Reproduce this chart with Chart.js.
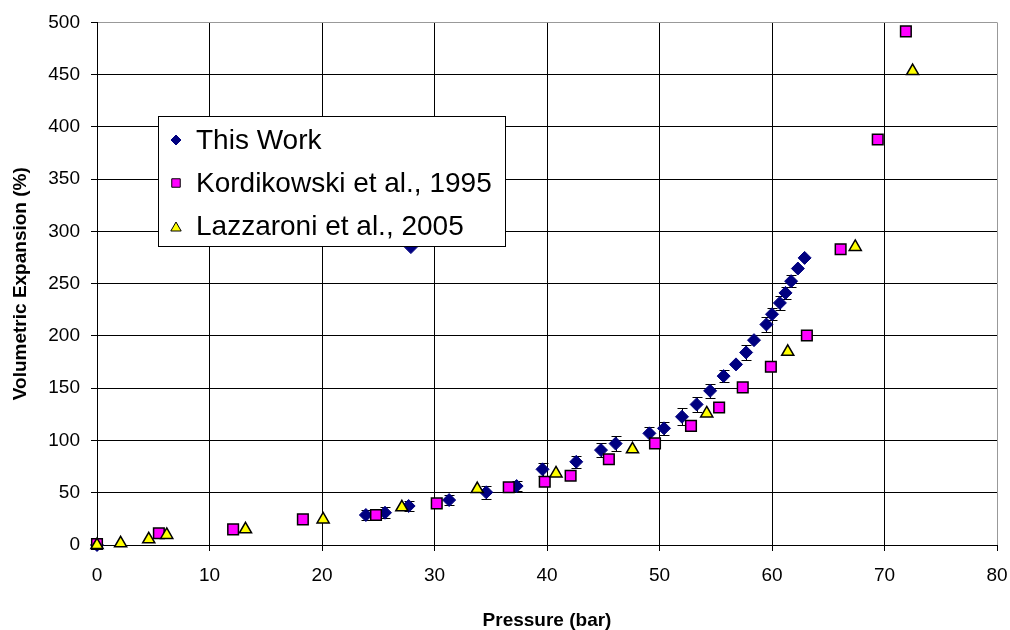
<!DOCTYPE html>
<html>
<head>
<meta charset="utf-8">
<script src="https://cdn.jsdelivr.net/npm/chart.js@4/dist/chart.umd.min.js"></script>
<style>
  html, body { margin: 0; padding: 0; background: #fff; }
  #grafico { display: block; }
</style>
</head>
<body>
<canvas id="grafico" width="1010" height="630"></canvas>
<script>
// pressure (bar) and volumetric expansion (%)
var thisWorkP = [0, 23.9, 25.6, 27.7, 27.9, 31.3, 34.6, 37.3, 39.6, 42.6, 44.8, 46.1, 49.1, 50.4, 52.0, 53.3, 54.5, 55.7, 56.8, 57.7, 58.4, 59.5, 60.0, 60.7, 61.2, 61.7, 62.3, 62.9]
var thisWorkV = [0, 28.7, 30.9, 37.3, 285, 43, 50.4, 56.4, 72.4, 79.6, 90.8, 97, 106.8, 111.6, 122.7, 134.5, 147.5, 161.6, 172.8, 184.2, 196, 211, 220.8, 231.6, 241.2, 252.4, 264.5, 274.7]
var thisWorkErr = [0, 5, 5, 5, 0, 5, 6, 5, 6, 6, 7, 7, 6, 6, 8, 7, 7, 6, 0, 7, 0, 7, 6, 7, 6, 6, 0, 0]

var kordP = [0, 5.5, 12.1, 18.3, 24.8, 30.2, 36.6, 39.8, 42.1, 45.5, 49.6, 52.8, 55.3, 57.4, 59.9, 63.1, 66.1, 69.4, 71.9]
var kordV = [1, 11.2, 15, 24.5, 28.7, 39.8, 55.2, 60.5, 66.3, 82, 97.2, 114, 131.6, 150.8, 170.5, 200.5, 283, 388, 491.4]

var lazzP = [0, 2.1, 4.6, 6.2, 13.2, 20.1, 27.1, 33.8, 40.8, 47.6, 54.2, 61.4, 67.4, 72.5]
var lazzV = [0, 1.6, 5.4, 9.6, 15, 24.5, 36, 53.5, 68.5, 91.5, 125.9, 184.8, 285.2, 453.5]

var seriesNames = ["This Work", "Kordikowski et al., 1995", "Lazzaroni et al., 2005"]

function pts(xs, ys) {
    return xs.map((x, i) => ({x: x, y: ys[i]}))
}

// vertical error bars on "This Work", drawn under the markers
const errorBars = {
    id: 'errorBars',
    beforeDatasetsDraw(chart) {
        const ctx = chart.ctx
        const xs = chart.scales.x, ys = chart.scales.y
        ctx.save()
        ctx.strokeStyle = '#000'
        ctx.lineWidth = 1
        thisWorkP.forEach((p, i) => {
            const e = thisWorkErr[i]
            if (!e) return
            const px = Math.round(xs.getPixelForValue(p)) + 0.5
            const y1 = Math.round(ys.getPixelForValue(thisWorkV[i] + e)) + 0.5
            const y2 = Math.round(ys.getPixelForValue(thisWorkV[i] - e)) + 0.5
            ctx.beginPath()
            ctx.moveTo(px, y1); ctx.lineTo(px, y2)
            ctx.moveTo(px - 5, y1); ctx.lineTo(px + 5, y1)
            ctx.moveTo(px - 5, y2); ctx.lineTo(px + 5, y2)
            ctx.stroke()
        })
        ctx.restore()
    }
}

// legend box sitting inside the plot, over the data
const boxLegend = {
    id: 'boxLegend',
    afterDraw(chart) {
        const ctx = chart.ctx
        ctx.save()
        ctx.fillStyle = '#fff'
        ctx.fillRect(158, 116, 347, 130)
        ctx.strokeStyle = '#000'
        ctx.lineWidth = 1
        ctx.strokeRect(158.5, 116.5, 347, 130)
        const rows = [140, 183, 226]
        const styles = [
            {pointStyle: 'rectRot', radius: 5, borderWidth: 1, fill: '#000080', stroke: '#000080'},
            {pointStyle: 'rect', radius: 6, borderWidth: 1, fill: '#FF00FF', stroke: '#000'},
            {pointStyle: 'triangle', radius: 6, borderWidth: 1, fill: '#FFFF00', stroke: '#000'}
        ]
        ctx.font = '28px "Liberation Sans", Arial, sans-serif'
        ctx.textBaseline = 'middle'
        rows.forEach((y, i) => {
            const s = styles[i]
            ctx.fillStyle = s.fill
            ctx.strokeStyle = s.stroke
            Chart.helpers.drawPoint(ctx, {pointStyle: s.pointStyle, radius: s.radius, rotation: 0, borderWidth: s.borderWidth}, 176, y + (i == 2 ? 2 : 0))
            ctx.fillStyle = '#000'
            ctx.fillText(seriesNames[i], 196, y + 1)
        })
        ctx.restore()
    }
}

var ctx = document.getElementById("grafico").getContext('2d')

var chartGraph = new Chart(ctx, {
    type: 'scatter',
    data: {
        datasets: [{
            label: seriesNames[0],
            data: pts(thisWorkP, thisWorkV),
            pointStyle: 'rectRot',
            pointRadius: 6.5,
            backgroundColor: '#000080',
            borderColor: '#000080',
            borderWidth: 1,
            clip: false,
            order: 3
        }, {
            label: seriesNames[1],
            data: pts(kordP, kordV),
            pointStyle: 'rect',
            pointRadius: 7.5,
            backgroundColor: '#FF00FF',
            borderColor: '#000',
            borderWidth: 1.5,
            clip: false,
            order: 2
        }, {
            label: seriesNames[2],
            data: pts(lazzP, lazzV),
            pointStyle: 'triangle',
            pointRadius: 7,
            backgroundColor: '#FFFF00',
            borderColor: '#000',
            borderWidth: 1.5,
            clip: false,
            order: 1
        }]
    },
    options: {
        responsive: false,
        animation: false,
        devicePixelRatio: 1,
        layout: {padding: {top: 22, right: 13, left: 0, bottom: 0}},
        plugins: {
            legend: {display: false},
            tooltip: {enabled: false}
        },
        scales: {
            x: {
                type: 'linear',
                min: 0, max: 80,
                afterFit: s => { s.height = 85; s.paddingRight = 0; s.paddingLeft = 0 },
                ticks: {
                    stepSize: 10,
                    color: '#000',
                    padding: 13,
                    font: {family: '"Liberation Sans", Arial, sans-serif', size: 19}
                },
                grid: {
                    color: c => c.tick && c.tick.value === 80 ? '#999' : '#000',
                    lineWidth: 1,
                    tickLength: 6,
                    tickColor: '#000'
                },
                border: {color: '#000', width: 1},
                title: {
                    display: true,
                    text: 'Pressure (bar)',
                    color: '#000',
                    padding: {top: 0, bottom: -2},
                    font: {family: '"Liberation Sans", Arial, sans-serif', size: 19, weight: 'bold'}
                }
            },
            y: {
                type: 'linear',
                min: 0, max: 500,
                afterFit: s => { s.width = 97 },
                ticks: {
                    stepSize: 50,
                    color: '#000',
                    padding: 11,
                    font: {family: '"Liberation Sans", Arial, sans-serif', size: 19}
                },
                grid: {
                    color: c => c.tick && c.tick.value === 500 ? '#999' : '#000',
                    lineWidth: 1,
                    tickLength: 6,
                    tickColor: '#000'
                },
                border: {color: '#000', width: 1},
                title: {
                    display: true,
                    text: 'Volumetric Expansion (%)',
                    color: '#000',
                    padding: {top: 9, bottom: 0},
                    font: {family: '"Liberation Sans", Arial, sans-serif', size: 19, weight: 'bold'}
                }
            }
        }
    },
    plugins: [errorBars, boxLegend]
});
</script>
</body>
</html>
